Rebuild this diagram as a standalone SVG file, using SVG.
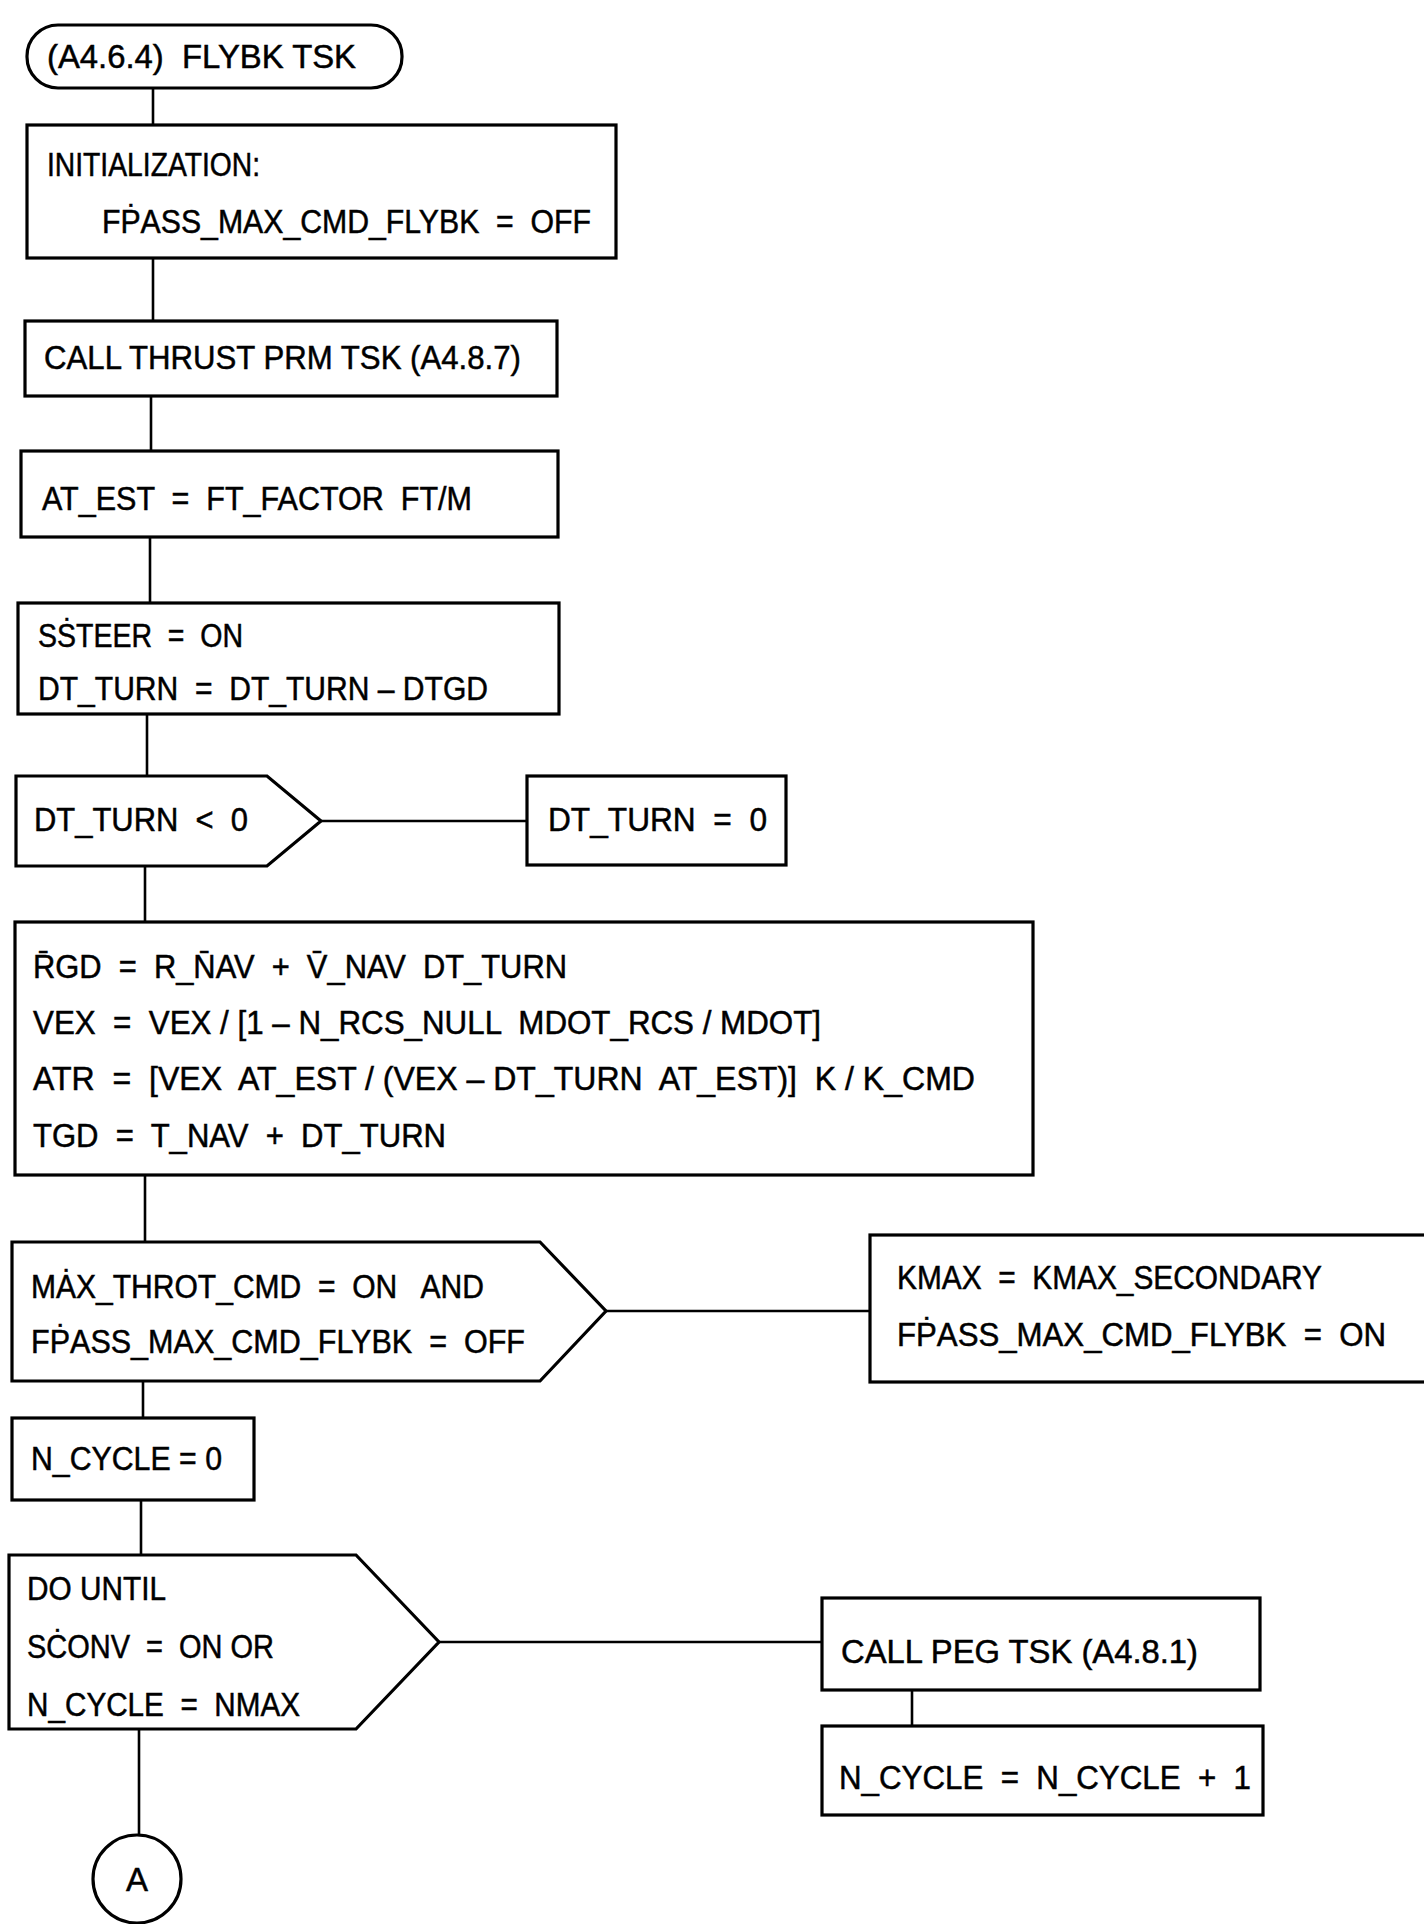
<svg xmlns="http://www.w3.org/2000/svg" width="1424" height="1924" viewBox="0 0 1424 1924">
<style>
.shape{fill:#fff;stroke:#000;stroke-width:3.2;stroke-linejoin:miter}
.conn{fill:none;stroke:#000;stroke-width:2.6}
text{font-family:"Liberation Sans",Arial,sans-serif;font-size:33px;fill:#000;stroke:#000;stroke-width:0.5;white-space:pre}
</style>
<rect x="0" y="0" width="1424" height="1924" fill="#fff"/>
<g id="connectors">
<line class="conn" x1="153" y1="88" x2="153" y2="125"/>
<line class="conn" x1="153" y1="258" x2="153" y2="321"/>
<line class="conn" x1="151" y1="396" x2="151" y2="451"/>
<line class="conn" x1="150" y1="537" x2="150" y2="603"/>
<line class="conn" x1="147" y1="714" x2="147" y2="776"/>
<line class="conn" x1="321" y1="821" x2="527" y2="821"/>
<line class="conn" x1="145" y1="866" x2="145" y2="922"/>
<line class="conn" x1="145" y1="1175" x2="145" y2="1242"/>
<line class="conn" x1="606" y1="1311" x2="870" y2="1311"/>
<line class="conn" x1="143" y1="1381" x2="143" y2="1418"/>
<line class="conn" x1="141" y1="1500" x2="141" y2="1555"/>
<line class="conn" x1="439" y1="1642" x2="822" y2="1642"/>
<line class="conn" x1="912" y1="1690" x2="912" y2="1726"/>
<line class="conn" x1="139" y1="1729" x2="139" y2="1834"/>
</g>
<g id="start">
<rect class="shape" x="27" y="25" width="375" height="63" rx="31" ry="31"/>
<text x="47" y="68" textLength="309" lengthAdjust="spacingAndGlyphs">(A4.6.4)  FLYBK TSK</text>
</g>
<g id="init">
<rect class="shape" x="27" y="125" width="589" height="133"/>
<text x="47" y="176" textLength="213" lengthAdjust="spacingAndGlyphs">INITIALIZATION:</text>
<text x="102" y="233" textLength="489" lengthAdjust="spacingAndGlyphs">FṖASS_MAX_CMD_FLYBK  =  OFF</text>
</g>
<g id="call-thrust">
<rect class="shape" x="25" y="321" width="532" height="75"/>
<text x="44" y="369" textLength="477" lengthAdjust="spacingAndGlyphs">CALL THRUST PRM TSK (A4.8.7)</text>
</g>
<g id="at-est">
<rect class="shape" x="21" y="451" width="537" height="86"/>
<text x="42" y="510" textLength="430" lengthAdjust="spacingAndGlyphs">AT_EST  =  FT_FACTOR  FT/M</text>
</g>
<g id="ssteer">
<rect class="shape" x="18" y="603" width="541" height="111"/>
<text x="38" y="647" textLength="205" lengthAdjust="spacingAndGlyphs">SṠTEER  =  ON</text>
<text x="38" y="700" textLength="450" lengthAdjust="spacingAndGlyphs">DT_TURN  =  DT_TURN – DTGD</text>
</g>
<g id="dec-dtturn">
<polygon class="shape" points="16,776 267,776 321,821 267,866 16,866"/>
<text x="34" y="831" textLength="214" lengthAdjust="spacingAndGlyphs">DT_TURN  &lt;  0</text>
</g>
<g id="dtturn-zero">
<rect class="shape" x="527" y="776" width="259" height="89"/>
<text x="548" y="831" textLength="219" lengthAdjust="spacingAndGlyphs">DT_TURN  =  0</text>
</g>
<g id="compute">
<rect class="shape" x="15" y="922" width="1018" height="253"/>
<text x="33" y="978" textLength="534" lengthAdjust="spacingAndGlyphs">R̄GD  =  R_N̄AV  +  V̄_NAV  DT_TURN</text>
<text x="33" y="1034" textLength="788" lengthAdjust="spacingAndGlyphs">VEX  =  VEX / [1 – N_RCS_NULL  MDOT_RCS / MDOT]</text>
<text x="33" y="1090" textLength="942" lengthAdjust="spacingAndGlyphs">ATR  =  [VEX  AT_EST / (VEX – DT_TURN  AT_EST)]  K / K_CMD</text>
<text x="33" y="1147" textLength="413" lengthAdjust="spacingAndGlyphs">TGD  =  T_NAV  +  DT_TURN</text>
</g>
<g id="dec-maxthrot">
<polygon class="shape" points="12,1242 540,1242 606,1311 540,1381 12,1381"/>
<text x="31" y="1298" textLength="453" lengthAdjust="spacingAndGlyphs">MȦX_THROT_CMD  =  ON   AND</text>
<text x="31" y="1353" textLength="494" lengthAdjust="spacingAndGlyphs">FṖASS_MAX_CMD_FLYBK  =  OFF</text>
</g>
<g id="kmax">
<rect class="shape" x="870" y="1235" width="560" height="147"/>
<text x="897" y="1289" textLength="425" lengthAdjust="spacingAndGlyphs">KMAX  =  KMAX_SECONDARY</text>
<text x="897" y="1346" textLength="489" lengthAdjust="spacingAndGlyphs">FṖASS_MAX_CMD_FLYBK  =  ON</text>
</g>
<g id="ncycle-init">
<rect class="shape" x="12" y="1418" width="242" height="82"/>
<text x="31" y="1470" textLength="191" lengthAdjust="spacingAndGlyphs">N_CYCLE = 0</text>
</g>
<g id="do-until">
<polygon class="shape" points="9,1555 356,1555 439,1642 356,1729 9,1729"/>
<text x="27" y="1600" textLength="139" lengthAdjust="spacingAndGlyphs">DO UNTIL</text>
<text x="27" y="1658" textLength="247" lengthAdjust="spacingAndGlyphs">SĊONV  =  ON OR</text>
<text x="27" y="1716" textLength="273" lengthAdjust="spacingAndGlyphs">N_CYCLE  =  NMAX</text>
</g>
<g id="call-peg">
<rect class="shape" x="822" y="1598" width="438" height="92"/>
<text x="841" y="1663" textLength="357" lengthAdjust="spacingAndGlyphs">CALL PEG TSK (A4.8.1)</text>
</g>
<g id="ncycle-inc">
<rect class="shape" x="822" y="1726" width="441" height="89"/>
<text x="839" y="1789" textLength="412" lengthAdjust="spacingAndGlyphs">N_CYCLE  =  N_CYCLE  +  1</text>
</g>
<g id="connector-A">
<ellipse class="shape" cx="137" cy="1879" rx="44" ry="44"/>
<text x="137" y="1891" text-anchor="middle">A</text>
</g>
</svg>
